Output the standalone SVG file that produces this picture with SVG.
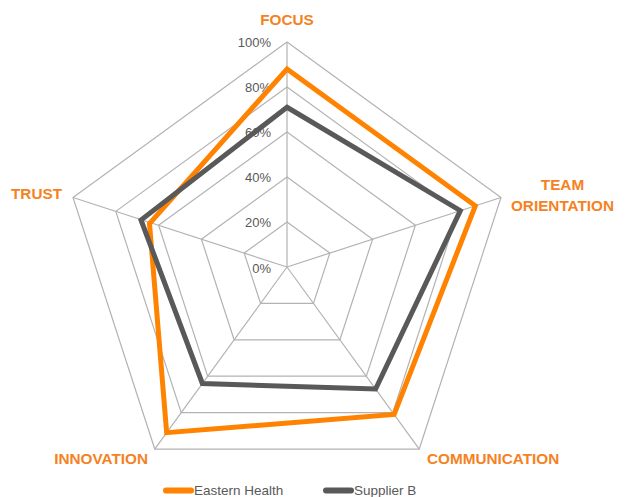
<svg xmlns="http://www.w3.org/2000/svg" width="626" height="497" viewBox="0 0 626 497">
<style>
.ring{fill:none;stroke:#b3b3b3;stroke-width:1.2}
.spoke{stroke:#b3b3b3;stroke-width:1.2}
.tick{font-family:"Liberation Sans",Arial,sans-serif;font-size:13px;fill:#595959;text-anchor:end}
.cat{font-family:"Liberation Sans",Arial,sans-serif;font-size:15.3px;font-weight:bold;fill:#f5821f}
.leg{font-family:"Liberation Sans",Arial,sans-serif;font-size:13.5px;fill:#595959}
.s1{fill:none;stroke:#ff8200;stroke-width:5;stroke-linejoin:miter}
.s2{fill:none;stroke:#595959;stroke-width:5;stroke-linejoin:miter}
</style>
<rect width="626" height="497" fill="#ffffff"/>
<g id="grid">
<polygon class="ring" points="287,42 500.99,197.47 419.25,449.03 154.75,449.03 73.01,197.47"/>
<polygon class="ring" points="287,87 458.19,211.38 392.80,412.62 181.20,412.62 115.81,211.38"/>
<polygon class="ring" points="287,132 415.39,225.28 366.35,376.22 207.65,376.22 158.61,225.28"/>
<polygon class="ring" points="287,177 372.60,239.19 339.90,339.81 234.10,339.81 201.40,239.19"/>
<polygon class="ring" points="287,222 329.80,253.09 313.45,303.41 260.55,303.41 244.20,253.09"/>
<line class="spoke" x1="287" y1="267" x2="287" y2="42"/>
<line class="spoke" x1="287" y1="267" x2="500.99" y2="197.47"/>
<line class="spoke" x1="287" y1="267" x2="419.25" y2="449.03"/>
<line class="spoke" x1="287" y1="267" x2="154.75" y2="449.03"/>
<line class="spoke" x1="287" y1="267" x2="73.01" y2="197.47"/>
</g>
<g id="ticks">
<text class="tick" x="271" y="46.5">100%</text>
<text class="tick" x="271" y="91.5">80%</text>
<text class="tick" x="271" y="136.5">60%</text>
<text class="tick" x="271" y="181.5">40%</text>
<text class="tick" x="271" y="226.5">20%</text>
<text class="tick" x="271" y="272.5">0%</text>
</g>
<g id="series">
<polygon id="eastern-health" class="s1" points="287,69 475.31,205.81 394.13,414.44 166.65,432.65 149.5,223.5"/>
<polygon id="supplier-b" class="s2" points="287,107.25 460.33,210.68 375.61,388.96 202.36,383.50 141,220"/>
</g>
<g id="focus"><text class="cat" x="287" y="25" text-anchor="middle">FOCUS</text></g>
<g id="team-orientation"><text class="cat" x="562.5" y="190" text-anchor="middle">TEAM</text><text class="cat" x="562.5" y="211" text-anchor="middle">ORIENTATION</text></g>
<g id="communication"><text class="cat" x="427" y="464">COMMUNICATION</text></g>
<g id="innovation"><text class="cat" x="148" y="464" text-anchor="end">INNOVATION</text></g>
<g id="trust"><text class="cat" x="62" y="199" text-anchor="end">TRUST</text></g>
<g id="legend">
<line x1="166" y1="490.5" x2="191" y2="490.5" stroke="#ff8200" stroke-width="6" stroke-linecap="round"/>
<text class="leg" x="194" y="495">Eastern Health</text>
<line x1="326" y1="490.5" x2="351" y2="490.5" stroke="#595959" stroke-width="6" stroke-linecap="round"/>
<text class="leg" x="354" y="495">Supplier B</text>
</g>
</svg>
